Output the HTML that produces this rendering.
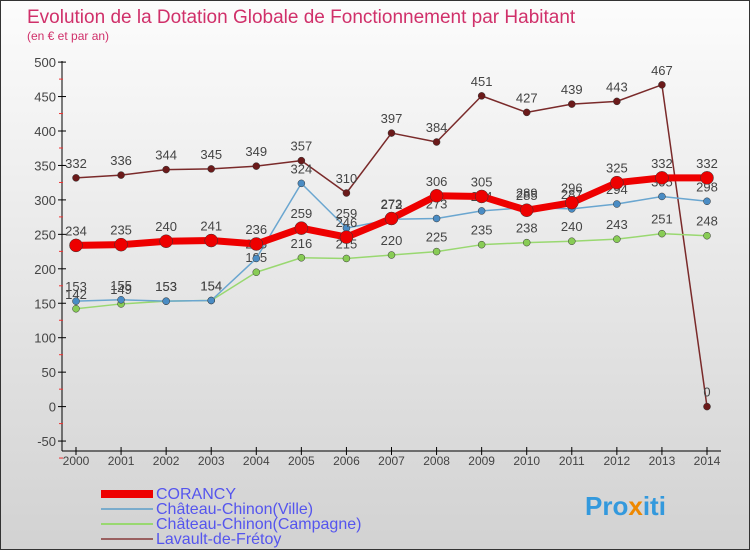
<!DOCTYPE html>
<html><head><meta charset="utf-8"><style>
body{margin:0}
#c{width:750px;height:550px;position:relative;background:linear-gradient(#fcfcfc,#d2d2d2);border:1px solid #333;box-sizing:border-box;overflow:hidden;font-family:"Liberation Sans",sans-serif}
</style></head><body>
<div id="c">
<svg width="750" height="550" id="s" style="position:absolute;left:0;top:0">
<text x="26" y="22" font-size="19" fill="#d0306a">Evolution de la Dotation Globale de Fonctionnement par Habitant</text>
<text x="26" y="39" font-size="12" fill="#d0306a">(en € et par an)</text>
<g id="g"></g>
<g>
<rect x="100" y="489" width="52" height="8" fill="#e00"/>
<text x="155" y="498" font-size="16" fill="#5555ee">CORANCY</text>
<rect x="100" y="507" width="52" height="2" fill="#7aaccc"/>
<text x="155" y="513" font-size="16" fill="#5555ee">Château-Chinon(Ville)</text>
<rect x="100" y="522" width="52" height="2" fill="#99d870"/>
<text x="155" y="528" font-size="16" fill="#5555ee">Château-Chinon(Campagne)</text>
<rect x="100" y="537" width="52" height="2" fill="#9a6060"/>
<text x="155" y="543" font-size="16" fill="#5555ee">Lavault-de-Frétoy</text>
</g>
<text x="584" y="514" font-size="26" font-weight="bold" fill="#3399dd">Pro<tspan fill="#ee8800">x</tspan>iti</text>
</svg>
</div>
<script>
const years=[2000,2001,2002,2003,2004,2005,2006,2007,2008,2009,2010,2011,2012,2013,2014];
const corancy=[234,235,240,241,236,259,246,273,306,305,285,296,325,332,332];
const ville=[153,155,153,154,215,324,259,272,273,284,289,287,294,305,298];
const campagne=[142,149,153,154,195,216,215,220,225,235,238,240,243,251,248];
const lavault=[332,336,344,345,349,357,310,397,384,451,427,439,443,467,0];
const yTicks=[-50,0,50,100,150,200,250,300,350,400,450,500];
const NS="http://www.w3.org/2000/svg";
const g=document.getElementById('g');
const X=i=>75+i*(706-75)/14;
const Y=v=>405.6-v*0.689;
function el(t,a,p){const e=document.createElementNS(NS,t);for(const k in a)e.setAttribute(k,a[k]);(p||g).appendChild(e);return e;}
let a=el('line',{x1:61,y1:60,x2:61,y2:450,stroke:'#000'});

a=el('line',{x1:61,y1:450,x2:720,y2:450,stroke:'#000'});

yTicks.forEach(v=>{const y=Y(v);
 el('line',{x1:57,y1:y,x2:65,y2:y,stroke:'#000'});
 el('line',{x1:58,y1:y+17,x2:62,y2:y+17,stroke:'#e33'});
 const t=el('text',{x:55,y:y+5,'font-size':13,fill:'#444','text-anchor':'end'});t.textContent=v;
 });
years.forEach((yr,i)=>{el('line',{x1:X(i),y1:446,x2:X(i),y2:454,stroke:'#000'});
 const t=el('text',{x:X(i),y:464,'font-size':12,fill:'#444','text-anchor':'middle'});t.textContent=yr;
 });
function series(d,col,w,r,name,mk){
 const p=el('polyline',{points:d.map((v,i)=>X(i)+','+Y(v)).join(' '),fill:'none',stroke:col,'stroke-width':w,'stroke-linejoin':'round'});
 
 d.forEach((v,i)=>{const c=el('circle',{cx:X(i),cy:Y(v),r:r,fill:mk,stroke:'#333','stroke-width':0.5});
  
  const t=el('text',{x:X(i),y:Y(v)-10,'font-size':13,fill:'#444','text-anchor':'middle'});t.textContent=v;
  });
}
series(lavault,'#7a2a2a',1.5,3.5,'lavault','#6b1a1a');
series(campagne,'#99d870',1.5,3.5,'campagne','#88cc55');
series(ville,'#6aa6d0',1.5,3.5,'ville','#4a8cc4');
series(corancy,'#ee0000',7,6.5,'corancy','#ee0000');
</script>
</body></html>
